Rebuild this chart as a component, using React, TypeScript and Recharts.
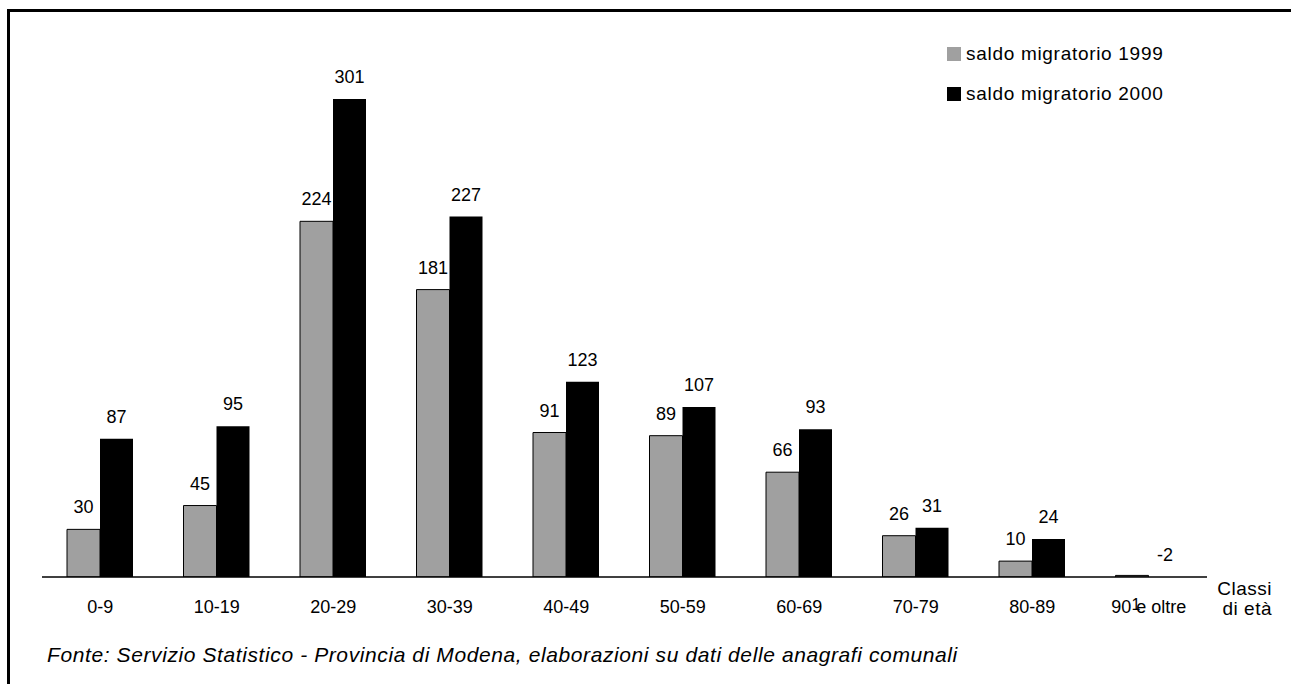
import { BarChart, Bar, XAxis, YAxis, LabelList } from "recharts";

const categories = ["0-9", "10-19", "20-29", "30-39", "40-49", "50-59", "60-69", "70-79", "80-89", "90 e oltre"];
const saldo1999 = [30, 45, 224, 181, 91, 89, 66, 26, 10, 1];
const saldo2000 = [87, 95, 301, 227, 123, 107, 93, 31, 24, -2];
const seriesNames = ["saldo migratorio 1999", "saldo migratorio 2000"];
const seriesColors = ["#a0a0a0", "#000000"];
const axisTitle = ["Classi", "di età"];
const source = "Fonte: Servizio Statistico - Provincia di Modena, elaborazioni su dati delle anagrafi comunali";

const FONT = "'Liberation Sans', Arial, sans-serif";

const data = categories.map((c, i) => ({
    classe: c,
    s1999: saldo1999[i],
    s2000: saldo2000[i],
}));

// labels sit above the bar; a tiny 1999 bar gets its label under the axis like the source
function Label1999(props: any) {
    const { x, y, width, height, value } = props;
    const top = Math.min(y, y + height);
    const bottom = Math.max(y, y + height);
    const tiny = Math.abs(height) < 4;
    return (
        <text
            x={x + width / 2 + (tiny ? 4 : 0)}
            y={tiny ? bottom + 33 : top - 16}
            textAnchor="middle"
            fontSize={tiny ? 16 : 18}
            fill="#000"
            fontFamily={FONT}
        >
            {value}
        </text>
    );
}

function Label2000(props: any) {
    const { x, y, width, height, value } = props;
    const top = Math.min(y, y + height);
    return (
        <text x={x + width / 2} y={top - 16} textAnchor="middle" fontSize={18} fill="#000" fontFamily={FONT}>
            {value}
        </text>
    );
}

export default function App() {
    return (
        <div
            style={{
                position: "absolute",
                left: 0,
                top: 0,
                width: 1291,
                height: 684,
                overflow: "hidden",
                background: "#fff",
                fontFamily: FONT,
            }}
        >
            <div
                style={{
                    position: "absolute",
                    left: 7,
                    top: 9,
                    width: 1400,
                    height: 800,
                    borderTop: "3px solid #000",
                    borderLeft: "3px solid #000",
                }}
            />
            <div style={{ position: "absolute", left: 0, top: 0 }}>
                <BarChart
                    width={1291}
                    height={684}
                    data={data}
                    margin={{ top: 53, right: 84, left: 42, bottom: 77 }}
                    barCategoryGap={25}
                    barGap={0}
                >
                    <XAxis
                        dataKey="classe"
                        height={30}
                        interval={0}
                        tickLine={false}
                        tickSize={0}
                        tickMargin={23}
                        axisLine={{ stroke: "#000", strokeWidth: 1.5 }}
                        tick={{ fontSize: 18, fill: "#000", fontFamily: FONT }}
                    />
                    <YAxis hide domain={[0, 330]} allowDataOverflow />
                    <Bar dataKey="s1999" fill={seriesColors[0]} stroke="#000" strokeWidth={1} isAnimationActive={false}>
                        <LabelList dataKey="s1999" content={Label1999} />
                    </Bar>
                    <Bar dataKey="s2000" fill={seriesColors[1]} isAnimationActive={false}>
                        <LabelList dataKey="s2000" content={Label2000} />
                    </Bar>
                </BarChart>
            </div>

            {/* legend */}
            <div style={{ position: "absolute", left: 947, top: 42 }}>
                {seriesNames.map((name, i) => (
                    <div key={name} style={{ display: "flex", alignItems: "center", height: 24, marginBottom: 16 }}>
                        <span
                            style={{
                                display: "inline-block",
                                width: 14,
                                height: 14,
                                background: seriesColors[i],
                                marginRight: 5,
                            }}
                        />
                        <span style={{ fontSize: 19, letterSpacing: 0.7, color: "#000" }}>{name}</span>
                    </div>
                ))}
            </div>

            <div
                style={{
                    position: "absolute",
                    right: 1291 - 1272,
                    top: 579,
                    fontSize: 19,
                    letterSpacing: 0.5,
                    lineHeight: "20px",
                    textAlign: "right",
                    color: "#000",
                }}
            >
                {axisTitle.map((t) => (
                    <div key={t}>{t}</div>
                ))}
            </div>

            <div
                style={{
                    position: "absolute",
                    left: 47,
                    top: 644,
                    fontSize: 21,
                    letterSpacing: 0.6,
                    lineHeight: 1,
                    fontStyle: "italic",
                    color: "#000",
                    whiteSpace: "nowrap",
                }}
            >
                {source}
            </div>
        </div>
    );
}
